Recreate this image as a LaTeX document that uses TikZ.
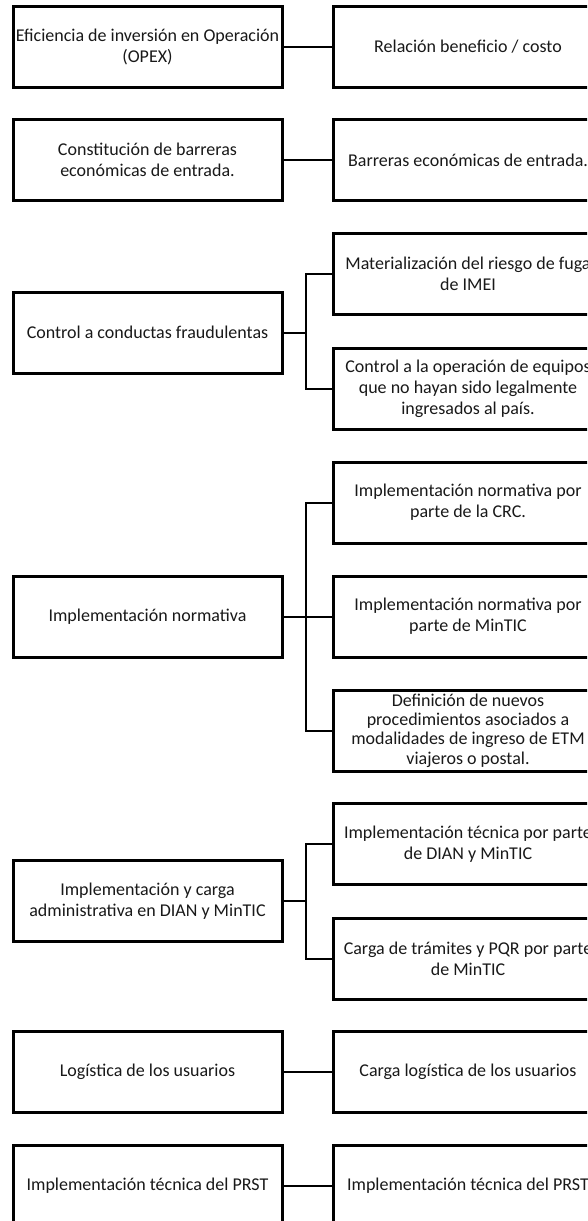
\documentclass[tikz,border=0pt]{standalone}
\usepackage{fontspec}
\setmainfont{Carlito}
\begin{document}
\begin{tikzpicture}[x=1pt,y=-1pt,
  lbox/.style={draw=black,line width=3pt,rectangle,minimum width=269pt,minimum height=81pt,inner sep=0pt,align=center,font=\fontsize{18}{21}\selectfont,text=black!90},
  tight/.style={font=\fontsize{18}{19.3}\selectfont},
  conn/.style={draw=black,line width=2pt}]
\useasboundingbox (0,0) rectangle (587,1221);
\fill[white] (0,0) rectangle (587,1221);
\clip (0,0) rectangle (587,1221);
\coordinate (J) at (306,0);
% row 1
\node[lbox] (L1) at (147.5,46.5) {Eficiencia de inversión en Operación\\(OPEX)};
\node[lbox] (R1) at (468,46.5) {Relación beneficio / costo};
\draw[conn] (L1.east) -- (R1.west);
% row 2
\node[lbox] (L2) at (147.5,160) {Constitución de barreras\\económicas de entrada.};
\node[lbox] (R2) at (468,160) {Barreras económicas de entrada.};
\draw[conn] (L2.east) -- (R2.west);
% row 3
\node[lbox] (L3) at (147.5,332.5) {Control a conductas fraudulentas};
\node[lbox] (R3a) at (468,274) {Materialización del riesgo de fuga\\de IMEI};
\node[lbox] (R3b) at (468,389) {Control a la operación de equipos\\que no hayan sido legalmente\\ingresados al país.};
\draw[conn] (L3.east) -- (L3.east -| J);
\draw[conn] (R3a.west) -- (R3a.west -| J) -- (R3b.west -| J) -- (R3b.west);
% row 4
\node[lbox] (L4) at (147.5,616.5) {Implementación normativa};
\node[lbox] (R4a) at (468,502.5) {Implementación normativa por\\parte de la CRC.};
\node[lbox] (R4b) at (468,616.5) {Implementación normativa por\\parte de MinTIC};
\node[lbox,tight] (R4c) at (468,730.5) {Definición de nuevos\\procedimientos asociados a\\modalidades de ingreso de ETM\\viajeros o postal.};
\draw[conn] (L4.east) -- (R4b.west);
\draw[conn] (R4a.west) -- (R4a.west -| J) -- (R4c.west -| J) -- (R4c.west);
% row 5
\node[lbox] (L5) at (147.5,901) {Implementación y carga\\administrativa en DIAN y MinTIC};
\node[lbox] (R5a) at (468,844) {Implementación técnica por parte\\de DIAN y MinTIC};
\node[lbox] (R5b) at (468,958.5) {Carga de trámites y PQR por parte\\de MinTIC};
\draw[conn] (L5.east) -- (L5.east -| J);
\draw[conn] (R5a.west) -- (R5a.west -| J) -- (R5b.west -| J) -- (R5b.west);
% row 6
\node[lbox] (L6) at (147.5,1072) {Logística de los usuarios};
\node[lbox] (R6) at (468,1072) {Carga logística de los usuarios};
\draw[conn] (L6.east) -- (R6.west);
% row 7
\node[lbox] (L7) at (147.5,1185.5) {Implementación técnica del PRST};
\node[lbox] (R7) at (468,1185.5) {Implementación técnica del PRST};
\draw[conn] (L7.east) -- (R7.west);
\end{tikzpicture}
\end{document}
